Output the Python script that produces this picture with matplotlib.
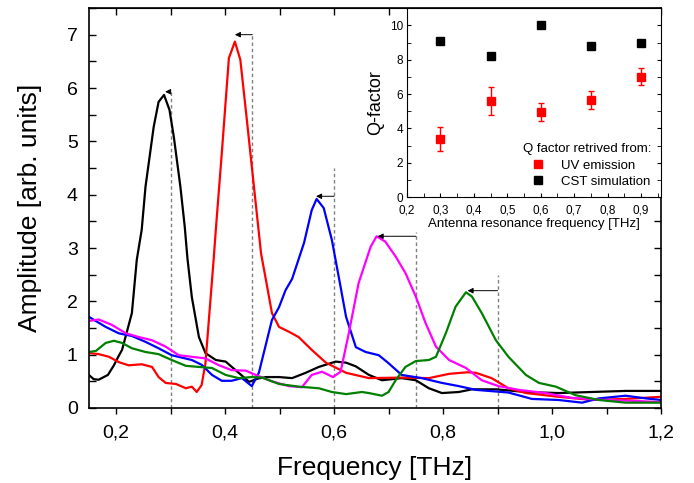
import numpy as np
import matplotlib
matplotlib.use('Agg')
import matplotlib.pyplot as plt
from matplotlib.ticker import MultipleLocator, FuncFormatter
from matplotlib.lines import Line2D

plt.rcParams['font.family'] = ['Liberation Sans', 'DejaVu Sans']

# spectra (frequency THz, amplitude arb. units)
black_x = [0.15, 0.159, 0.168, 0.185, 0.196, 0.205, 0.211, 0.229, 0.238, 0.247, 0.254, 0.269, 0.278, 0.288,
           0.298, 0.306, 0.318, 0.326, 0.331, 0.339, 0.352, 0.364, 0.383, 0.401, 0.425, 0.444, 0.46, 0.475,
           0.499, 0.523, 0.548, 0.572, 0.603, 0.622, 0.64, 0.664, 0.688, 0.724, 0.75, 0.774, 0.798, 0.829,
           0.853, 0.897, 0.952, 1.012, 1.073, 1.135, 1.2]
black_y = [0.62, 0.54, 0.53, 0.62, 0.80, 0.98, 1.09, 1.78, 2.78, 3.34, 4.15, 5.27, 5.74, 5.87,
           5.59, 5.08, 4.15, 3.4, 2.8, 2.08, 1.33, 1.03, 0.90, 0.87, 0.66, 0.49, 0.55, 0.58,
           0.58, 0.56, 0.66, 0.77, 0.87, 0.85, 0.78, 0.62, 0.52, 0.56, 0.52, 0.37, 0.28, 0.30,
           0.35, 0.35, 0.30, 0.28, 0.30, 0.32, 0.32]

red_x = [0.15, 0.168, 0.187, 0.205, 0.223, 0.247, 0.266, 0.278, 0.291, 0.31, 0.328, 0.339, 0.348, 0.357,
         0.364, 0.379, 0.383, 0.394, 0.407, 0.418, 0.428, 0.44, 0.453, 0.466, 0.475, 0.486, 0.499, 0.517,
         0.535, 0.559, 0.585, 0.622, 0.664, 0.724, 0.774, 0.811, 0.845, 0.86, 0.889, 0.92, 0.952, 1.012,
         1.073, 1.135, 1.2]
red_y = [1.03, 1.01, 0.96, 0.86, 0.80, 0.82, 0.77, 0.58, 0.47, 0.45, 0.37, 0.40, 0.30, 0.43,
         0.84, 2.78, 3.34, 4.78, 6.56, 6.87, 6.53, 5.4, 4.15, 2.9, 2.4, 1.78, 1.52, 1.43,
         1.33, 1.09, 0.85, 0.66, 0.56, 0.57, 0.56, 0.64, 0.67, 0.66, 0.56, 0.37, 0.28, 0.21,
         0.15, 0.17, 0.21]

blue_x = [0.15, 0.181, 0.205, 0.229, 0.254, 0.278, 0.302, 0.339, 0.357, 0.376, 0.394, 0.412, 0.431, 0.449,
          0.462, 0.486, 0.499, 0.511, 0.523, 0.545, 0.559, 0.568, 0.581, 0.596, 0.612, 0.622, 0.64, 0.658,
          0.682, 0.70, 0.724, 0.761, 0.798, 0.829, 0.86, 0.92, 0.963, 1.012, 1.055, 1.086, 1.135, 1.172, 1.2]
blue_y = [1.71, 1.52, 1.40, 1.35, 1.24, 1.12, 0.99, 0.90, 0.81, 0.62, 0.51, 0.51, 0.56, 0.41,
          0.66, 1.65, 1.89, 2.21, 2.42, 3.1, 3.71, 3.92, 3.75, 3.15, 2.27, 1.71, 1.14, 1.05,
          0.99, 0.84, 0.62, 0.56, 0.47, 0.41, 0.34, 0.29, 0.17, 0.15, 0.10, 0.18, 0.23, 0.18, 0.15]

magenta_x = [0.15, 0.168, 0.192, 0.218, 0.242, 0.266, 0.291, 0.315, 0.339, 0.364, 0.389, 0.412, 0.438, 0.456,
             0.486, 0.517, 0.541, 0.559, 0.578, 0.598, 0.612, 0.627, 0.645, 0.667, 0.678, 0.694, 0.713, 0.731,
             0.75, 0.768, 0.787, 0.811, 0.842, 0.871, 0.902, 0.939, 0.988, 1.036, 1.098, 1.159, 1.2]
magenta_y = [1.63, 1.66, 1.56, 1.40, 1.33, 1.27, 1.15, 0.99, 0.96, 0.93, 0.80, 0.71, 0.70, 0.62,
             0.50, 0.41, 0.39, 0.62, 0.68, 0.58, 0.68, 1.40, 2.34, 3.02, 3.22, 3.12, 2.84, 2.53,
             2.09, 1.59, 1.15, 0.90, 0.75, 0.52, 0.41, 0.34, 0.28, 0.19, 0.15, 0.13, 0.11]

green_x = [0.15, 0.163, 0.181, 0.196, 0.211, 0.229, 0.254, 0.278, 0.302, 0.328, 0.352, 0.376, 0.401, 0.425,
           0.449, 0.468, 0.499, 0.535, 0.572, 0.596, 0.622, 0.651, 0.664, 0.688, 0.70, 0.713, 0.731, 0.75,
           0.774, 0.787, 0.805, 0.823, 0.842, 0.853, 0.871, 0.897, 0.92, 0.952, 0.976, 1.007, 1.043, 1.086,
           1.135, 1.2]
green_y = [1.05, 1.07, 1.22, 1.26, 1.22, 1.12, 1.05, 1.01, 0.90, 0.79, 0.77, 0.75, 0.62, 0.56,
           0.58, 0.57, 0.45, 0.40, 0.37, 0.30, 0.26, 0.30, 0.28, 0.23, 0.30, 0.52, 0.77, 0.88,
           0.90, 0.96, 1.40, 1.90, 2.17, 2.09, 1.78, 1.27, 0.96, 0.62, 0.47, 0.40, 0.24, 0.15,
           0.10, 0.10]

# antenna resonances (dashed lines) and shift arrows to the measured peaks
res_f = [0.3, 0.45, 0.6, 0.75, 0.9]
res_top = [5.95, 7.0, 4.5, 3.3, 2.5]
arrow_y = [5.93, 7.0, 3.97, 3.22, 2.2]
peak_f = [0.29, 0.418, 0.567, 0.68, 0.845]

# inset: Q factor
q_f = [0.3, 0.45, 0.6, 0.75, 0.9]
q_uv = [3.4, 5.6, 4.95, 5.65, 7.0]
q_uv_err = [0.7, 0.8, 0.5, 0.5, 0.5]
q_cst = [9.1, 8.2, 10.0, 8.8, 9.0]

comma = FuncFormatter(lambda v, p: ('%.1f' % v).replace('.', ','))

fig = plt.figure(figsize=(6.94, 4.83), dpi=100)
ax = fig.add_axes([0.128, 0.1553, 0.8245, 0.8281])

ax.vlines(res_f, 0, res_top, colors='#808080', linestyles=(0, (2.5, 2)), lw=1.0, zorder=1)
for f, yv, pf in zip(res_f, arrow_y, peak_f):
    ax.annotate('', xy=(pf, yv), xytext=(f, yv),
                arrowprops=dict(arrowstyle='-|>', color='k', lw=0.7, mutation_scale=8,
                                shrinkA=0, shrinkB=0))

ax.plot(black_x, black_y, color='black', lw=1.6)
ax.plot(red_x, red_y, color='#ff0000', lw=1.6)
ax.plot(blue_x, blue_y, color='#0000ff', lw=1.6)
ax.plot(magenta_x, magenta_y, color='#ff00ff', lw=1.6)
ax.plot(green_x, green_y, color='#008000', lw=1.6)

ax.set_xlim(0.15, 1.2)
ax.set_ylim(0, 7.5)
ax.xaxis.set_major_locator(MultipleLocator(0.2))
ax.xaxis.set_minor_locator(MultipleLocator(0.1))
ax.xaxis.set_major_formatter(comma)
ax.yaxis.set_major_locator(MultipleLocator(1))
ax.yaxis.set_minor_locator(MultipleLocator(0.5))
ax.tick_params(axis='x', which='both', direction='out', length=4, width=1, labelsize=14, pad=8)
ax.tick_params(axis='y', which='both', direction='in', length=5, width=1, labelsize=14, right=True, pad=8)
top = ax.secondary_xaxis('top')
top.xaxis.set_major_locator(MultipleLocator(0.1))
top.tick_params(direction='in', length=5, width=1, labeltop=False)
ax.set_xlabel('Frequency [THz]', fontsize=19, labelpad=10)
ax.set_ylabel('Amplitude [arb. units]', fontsize=19, labelpad=18)
for s in ax.spines.values():
    s.set_linewidth(1.2)

# inset
ins = fig.add_axes([0.5865, 0.592, 0.366, 0.391])
ins.set_facecolor('white')
ins.errorbar(q_f, q_uv, yerr=q_uv_err, fmt='s', color='#ff0000', ms=6, capsize=2, elinewidth=1)
ins.plot(q_f, q_cst, 's', color='black', ms=6)
ins.set_xlim(0.2, 0.96)
ins.set_ylim(0, 11)
ins.xaxis.set_major_locator(MultipleLocator(0.1))
ins.xaxis.set_minor_locator(MultipleLocator(0.05))
ins.xaxis.set_major_formatter(comma)
ins.yaxis.set_major_locator(MultipleLocator(2))
ins.yaxis.set_minor_locator(MultipleLocator(1))
ins.yaxis.set_major_formatter(FuncFormatter(lambda v, p: '%d' % v))
ins.tick_params(which='both', direction='in', labelsize=8.5, right=True, length=3)
ins.tick_params(axis='x', pad=5.5)
ins.tick_params(axis='y', pad=3)
ins.set_xlabel('Antenna resonance frequency [THz]', fontsize=9.5, labelpad=1)
ins.set_ylabel('Q-factor', fontsize=13, labelpad=4)
handles = [Line2D([], [], marker='s', ls='', color='#ff0000', ms=6),
           Line2D([], [], marker='s', ls='', color='black', ms=6)]
ins.legend(handles, ['UV emission', 'CST simulation'], title='Q factor retrived from:',
           loc='lower right', frameon=False, fontsize=9.5, title_fontsize=9.5,
           handletextpad=0.8, borderaxespad=0.3, labelspacing=0.3)

fig.savefig('out.png', dpi=100)
